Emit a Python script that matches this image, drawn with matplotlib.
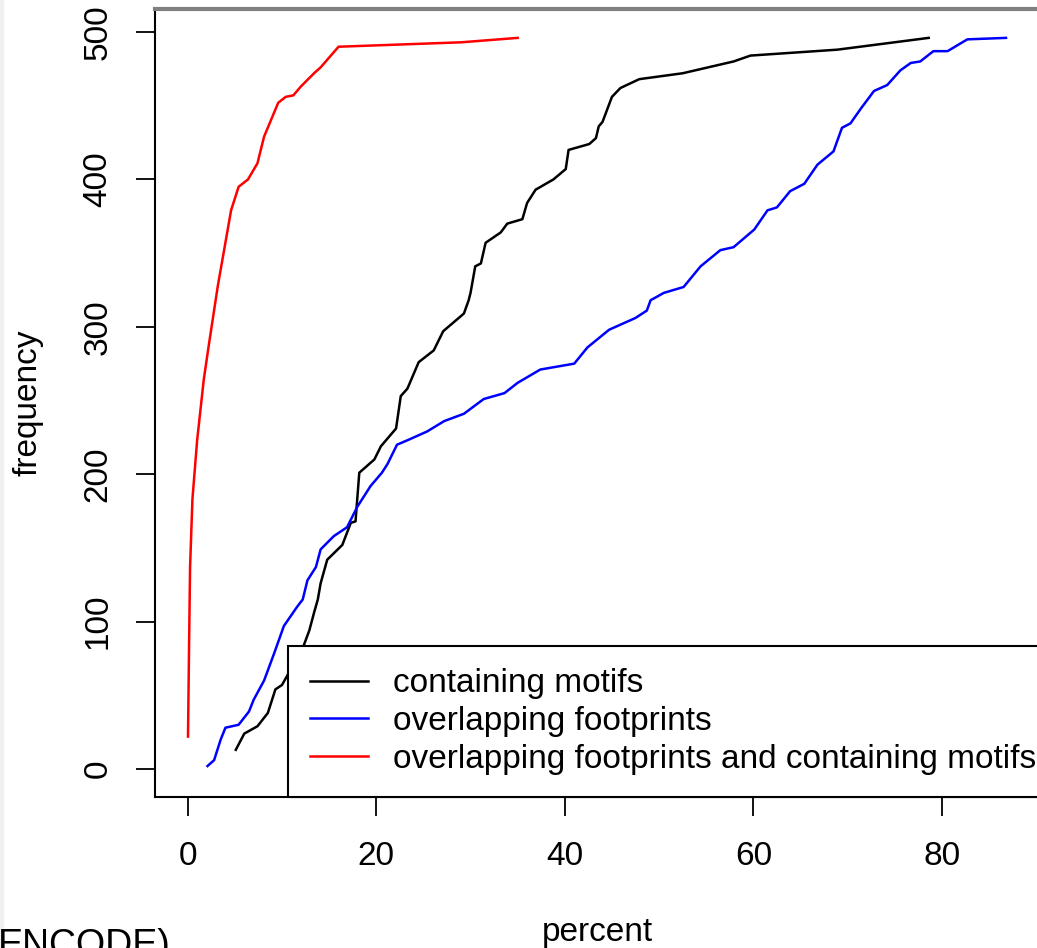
import numpy as np
import matplotlib.pyplot as plt
from matplotlib.patches import Rectangle

plt.rcParams['font.family'] = ['Liberation Sans', 'DejaVu Sans']

# containing motifs
motif_pct = [5.1, 6.0, 7.4, 8.5, 9.3, 10.0, 12.2, 12.9, 13.4, 13.8, 14.1, 14.8, 16.4, 17.3, 17.8,
             18.2, 19.8, 20.5, 21.7, 22.1, 22.6, 23.3, 24.5, 26.1, 27.1, 29.3, 29.8, 30.0, 30.5,
             31.1, 31.6, 33.2, 33.9, 35.5, 36.0, 36.9, 38.8, 40.1, 40.4, 42.6, 43.3, 43.6, 44.0,
             45.0, 45.9, 47.9, 52.5, 57.9, 59.7, 68.9, 78.6]
motif_freq = [13, 24, 29, 38, 54, 57, 82, 94, 106, 115, 126, 142, 152, 167, 168,
              201, 210, 219, 228, 231, 253, 258, 276, 284, 297, 309, 318, 323, 341,
              343, 357, 364, 370, 373, 384, 393, 400, 407, 420, 424, 428, 436, 439,
              456, 462, 468, 472, 480, 484, 488, 496]

# overlapping footprints
foot_pct = [2.1, 2.8, 3.5, 4.0, 5.4, 6.5, 7.0, 8.1, 9.2, 10.2, 11.6, 12.2, 12.7, 13.6, 14.1,
            15.5, 16.9, 18.0, 19.4, 20.6, 21.2, 22.2, 23.3, 25.4, 27.2, 29.3, 31.4, 33.6, 35.0,
            37.4, 41.0, 42.4, 44.7, 47.5, 48.7, 49.1, 50.5, 52.6, 54.4, 56.5, 57.9, 60.1, 61.5,
            62.5, 63.9, 65.4, 66.8, 68.5, 69.4, 70.3, 71.4, 72.8, 74.2, 75.6, 76.7, 77.7, 79.1,
            80.6, 82.7, 86.8]
foot_freq = [2, 6, 20, 28, 30, 39, 47, 60, 79, 97, 110, 115, 128, 137, 149,
             158, 164, 178, 192, 201, 207, 220, 223, 229, 236, 241, 251, 255, 262,
             271, 275, 286, 298, 306, 311, 318, 323, 327, 341, 352, 354, 366, 379,
             381, 392, 397, 410, 419, 435, 438, 448, 460, 464, 474, 479, 480, 487,
             487, 495, 496]

# overlapping footprints and containing motifs
both_pct = [0.03, 0.1, 0.14, 0.25, 0.5, 1.0, 1.7, 2.2, 3.2, 4.6, 5.4, 6.4, 7.4, 8.1, 9.6,
            10.4, 11.2, 12.0, 13.4, 14.1, 16.0, 29.0, 35.0]
both_freq = [22, 60, 82, 137, 183, 223, 264, 286, 328, 379, 395, 400, 411, 429, 452,
             456, 457, 463, 472, 476, 490, 493, 496]

labels = ['containing motifs', 'overlapping footprints',
          'overlapping footprints and containing motifs']
colors = ['black', 'blue', 'red']
xticks = [0, 20, 40, 60, 80]
yticks = [0, 100, 200, 300, 400, 500]

W, H = 1037, 948
fig = plt.figure(figsize=(W / 100, H / 100), dpi=100)
fig.patches.append(Rectangle((0, 0), 3 / W, 1, transform=fig.transFigure,
                             color='#f0f0f0', zorder=0))

ax = fig.add_axes([155 / W, (H - 796.7) / H, (1039 - 155) / W, (796.7 - 8.7) / H])

lw = 1.8
ax.plot(motif_pct, motif_freq, color=colors[0], lw=lw, label=labels[0])
ax.plot(foot_pct, foot_freq, color=colors[1], lw=lw, label=labels[1])
ax.plot(both_pct, both_freq, color=colors[2], lw=lw, label=labels[2])

ax.set_xlim(-3.47, 90.3)
ax.set_ylim(-18.8, 515.8)
ax.set_xticks(xticks)
ax.set_yticks(yticks)

for s in ax.spines.values():
    s.set_linewidth(1.5)
ax.spines['top'].set_color('#808080')
ax.spines['top'].set_linewidth(3)

ax.tick_params(axis='both', direction='out', length=14, width=1.3, labelsize=24)
ax.tick_params(axis='x', pad=18)
ax.tick_params(axis='y', pad=16, labelrotation=90)
for lab in ax.get_yticklabels():
    lab.set_va('center')

ax.set_xlabel('percent', fontsize=24, labelpad=32)
ax.set_ylabel('frequency', fontsize=24, labelpad=28)

# legend box runs past the right edge of the plot, as in the original
leg = ax.legend(loc='lower right', bbox_to_anchor=(1.0215, 0), borderaxespad=0,
                fontsize=24, handlelength=1.74, handletextpad=0.75,
                labelspacing=0.2, borderpad=0.66, fancybox=False,
                edgecolor='black', framealpha=1)
leg.get_frame().set_linewidth(1.5)

fig.text(-0.002, (H - 956) / H, 'ENCODE)', fontsize=27, va='baseline', ha='left')

fig.savefig('out.png', dpi=100)
